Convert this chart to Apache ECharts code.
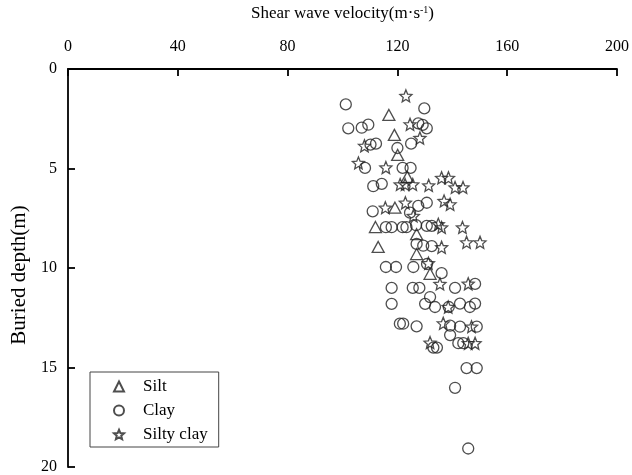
<!DOCTYPE html>
<html>
<head>
<meta charset="utf-8">
<script src="https://cdn.jsdelivr.net/npm/echarts@6/dist/echarts.min.js"></script>
<style>
  html, body { margin: 0; padding: 0; background: #fff; }
  #chart { width: 632px; height: 475px; }
</style>
</head>
<body>
<div id="chart"></div>
<script>
// Shear wave velocity (m/s) and buried depth (m) for each soil type
const siltVelocity = [116.9, 118.9, 120.1, 123.6, 119.1, 112.0, 127.0, 113.0, 127.0, 131.9];
const siltDepth    = [2.31,  3.31,  4.32,  5.42,  6.97,  7.94,  8.30,  8.94,  9.30,  10.29];

const clayVelocity = [101.2, 129.8, 102.1, 107.0, 109.4, 127.6, 129.2, 130.7, 125.0, 110.2,
                      112.2, 120.0, 108.2, 121.9, 124.8, 111.2, 114.3, 111.0, 127.6, 130.7,
                      124.6, 115.8, 117.9, 121.9, 123.3, 126.8, 130.7, 132.5, 127.0, 129.4,
                      132.5, 115.8, 119.5, 125.8, 130.8, 136.1, 117.9, 125.6, 128.0, 141.0,
                      148.3, 117.9, 130.1, 131.9, 133.7, 138.7, 142.8, 146.4, 148.3, 120.9,
                      122.1, 127.0, 139.2, 139.2, 142.8, 148.9, 133.1, 134.4, 142.2, 144.0,
                      145.2, 148.9, 141.0, 145.8];
const clayDepth    = [1.78, 1.98, 2.98, 2.95, 2.80, 2.73, 2.81, 2.98, 3.75, 3.80,
                      3.75, 3.97, 4.97, 4.97, 4.97, 5.89, 5.77, 7.15, 6.88, 6.72,
                      7.22, 7.95, 7.95, 7.95, 7.95, 7.85, 7.88, 7.88, 8.79, 8.88,
                      8.90, 9.95, 9.95, 9.95, 9.80, 10.26, 11.00, 11.00, 11.00, 11.00,
                      10.80, 11.80, 11.80, 11.46, 11.96, 11.96, 11.79, 11.96, 11.79, 12.80,
                      12.80, 12.93, 12.90, 13.37, 12.95, 12.95, 14.00, 14.00, 13.78, 13.78,
                      15.03, 15.03, 16.02, 19.07];

const siltyClayVelocity = [123.1, 124.6, 128.2, 108.0, 105.8, 115.8, 121.0, 122.8, 125.6, 131.4,
                           136.1, 138.6, 141.0, 143.9, 115.6, 122.9, 125.8, 137.0, 139.2, 134.9,
                           136.1, 143.7, 136.1, 145.2, 150.1, 131.3, 135.5, 145.8, 138.5, 136.7,
                           147.0, 131.9, 145.8, 148.3];
const siltyClayDepth    = [1.35, 2.78, 3.47, 3.86, 4.72, 4.95, 5.80, 5.80, 5.80, 5.85,
                           5.47, 5.47, 5.95, 5.95, 6.97, 6.72, 7.38, 6.63, 6.80, 7.80,
                           7.96, 7.96, 8.96, 8.71, 8.71, 9.76, 10.80, 10.79, 11.96, 12.78,
                           12.95, 13.75, 13.78, 13.78];

const seriesNames = ['Silt', 'Clay', 'Silty clay'];
const xTicks = { min: 0, max: 200, interval: 40 };
const yTicks = { min: 0, max: 20, interval: 5 };

const pair = (xs, ys) => xs.map((v, i) => [v, ys[i]]);

const STAR = 'path://M50,0 L63.2,31.8 L97.6,34.5 L71.4,56.9 L79.4,90.5 L50,72.5 L20.6,90.5 L28.6,56.9 L2.4,34.5 L36.8,31.8 Z';
const FONT = '"Liberation Serif", "Times New Roman", serif';
const markStyle = { color: 'rgba(255,255,255,0)', borderColor: '#222', borderWidth: 1.3 };

const chart = echarts.init(document.getElementById('chart'), null, { renderer: 'canvas' });

chart.setOption({
  animation: false,
  backgroundColor: '#fff',
  textStyle: { fontFamily: FONT, color: '#000' },
  grid: { left: 68, right: 15, top: 67, bottom: 8, containLabel: false },
  legend: {
    orient: 'vertical',
    left: 90,
    top: 372,
    padding: [6, 11, 4, 23],
    itemGap: 7,
    itemWidth: 10,
    itemHeight: 10,
    borderColor: '#444',
    borderWidth: 1,
    textStyle: { fontFamily: FONT, fontSize: 17, color: '#000', padding: [0, 0, 0, 14] },
    data: seriesNames
  },
  xAxis: {
    type: 'value',
    position: 'top',
    min: xTicks.min,
    max: xTicks.max,
    interval: xTicks.interval,
    name: 'Shear wave velocity(m·s{sup|-1})',
    nameLocation: 'middle',
    nameGap: 46,
    nameTextStyle: {
      fontFamily: FONT, fontSize: 17, color: '#000',
      rich: { sup: { fontFamily: FONT, fontSize: 10, color: '#000', verticalAlign: 'top', padding: [0, 0, 8, 0] } }
    },
    axisLine: { show: true, lineStyle: { color: '#000', width: 1.8 } },
    axisTick: { show: true, inside: true, length: 7, lineStyle: { color: '#000', width: 1.8 } },
    axisLabel: { fontFamily: FONT, fontSize: 16, color: '#000', margin: 14 },
    splitLine: { show: false }
  },
  yAxis: {
    type: 'value',
    inverse: true,
    min: yTicks.min,
    max: yTicks.max,
    interval: yTicks.interval,
    name: 'Buried depth(m)',
    nameLocation: 'middle',
    nameGap: 35,
    nameRotate: 90,
    nameTextStyle: { fontFamily: FONT, fontSize: 21, color: '#000', padding: [0, 0, 0, -14] },
    axisLine: { show: true, lineStyle: { color: '#000', width: 1.8 } },
    axisTick: { show: true, inside: true, length: 7, lineStyle: { color: '#000', width: 1.8 } },
    axisLabel: { fontFamily: FONT, fontSize: 16, color: '#000', margin: 11 },
    splitLine: { show: false }
  },
  series: [
    {
      name: seriesNames[0], type: 'scatter', symbol: 'triangle', symbolSize: [12, 11],
      itemStyle: markStyle, data: pair(siltVelocity, siltDepth)
    },
    {
      name: seriesNames[1], type: 'scatter', symbol: 'circle', symbolSize: 11,
      itemStyle: markStyle, data: pair(clayVelocity, clayDepth)
    },
    {
      name: seriesNames[2], type: 'scatter', symbol: STAR, symbolSize: 12,
      itemStyle: markStyle, data: pair(siltyClayVelocity, siltyClayDepth)
    }
  ]
});
</script>
</body>
</html>
